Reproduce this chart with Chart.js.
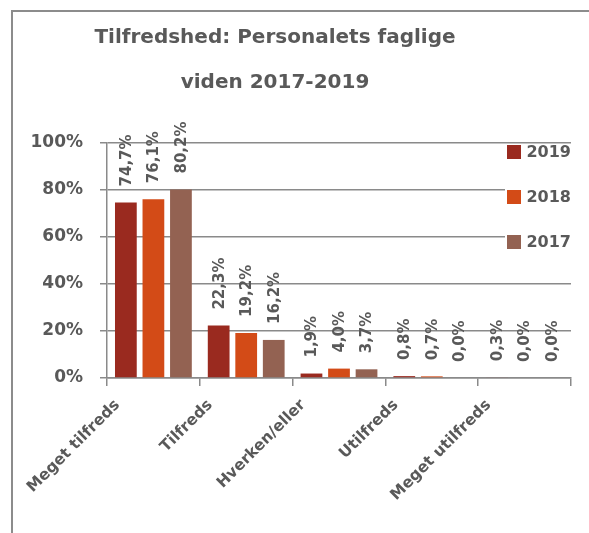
<!DOCTYPE html>
<html>
<head>
<meta charset="utf-8">
<script src="https://cdn.jsdelivr.net/npm/chart.js@4.4.1/dist/chart.umd.min.js"></script>
<style>
  html, body { margin: 0; padding: 0; background: #fff; overflow: hidden; }
  #frame { position: absolute; left: 11px; top: 10px; width: 640px; height: 600px; border: 2px solid #8c8c8c; }
  #wrap { position: absolute; left: 0; top: 0; width: 589px; height: 533px; }
</style>
</head>
<body>
<div id="frame"></div>
<div id="wrap"><canvas id="chart" width="589" height="533"></canvas></div>
<script>
// data
const categories = ['Meget tilfreds', 'Tilfreds', 'Hverken/eller', 'Utilfreds', 'Meget utilfreds'];
const years = ['2019', '2018', '2017'];
const values2019 = [74.7, 22.3, 1.9, 0.8, 0.3];
const values2018 = [76.1, 19.2, 4.0, 0.7, 0.0];
const values2017 = [80.2, 16.2, 3.7, 0.0, 0.0];
const yTicks = [0, 20, 40, 60, 80, 100];
const titleLines = ['Tilfredshed: Personalets faglige', 'viden 2017-2019'];

const colors = ['#9a2a1f', '#d34b17', '#936252'];
const textColor = '#595959';
const gridColor = '#8a8a8a';
const fontFamily = '"DejaVu Sans", sans-serif';

const fmt = v => v.toFixed(1).replace('.', ',') + '%';

// title drawn by hand so it can sit left of the canvas centre like the original
const chartTitle = {
  id: 'chartTitle',
  afterDraw(chart) {
    const ctx = chart.ctx;
    ctx.save();
    ctx.font = 'bold 20px ' + fontFamily;
    ctx.fillStyle = textColor;
    ctx.textAlign = 'center';
    ctx.textBaseline = 'alphabetic';
    titleLines.forEach((line, i) => ctx.fillText(line, 275, 43 + i * 44.6));
    ctx.restore();
  }
};

// legend inside the plot, top right
const sideLegend = {
  id: 'sideLegend',
  afterDatasetsDraw(chart) {
    const { ctx, chartArea } = chart;
    const right = chartArea.right;
    ctx.save();
    ctx.fillStyle = '#fff';
    ctx.fillRect(right - 66, chartArea.top + 2, 66, 106);
    ctx.font = 'bold 16px ' + fontFamily;
    ctx.textAlign = 'right';
    ctx.textBaseline = 'middle';
    chart.data.datasets.forEach((ds, i) => {
      const y = chartArea.top + 9 + i * 45;
      ctx.fillStyle = ds.backgroundColor;
      ctx.fillRect(right - 64, y - 7, 14, 14);
      ctx.fillStyle = textColor;
      ctx.fillText(ds.label, right, y + 1);
    });
    ctx.restore();
  }
};

// vertical value labels above each bar
const barLabels = {
  id: 'barLabels',
  afterDatasetsDraw(chart) {
    const ctx = chart.ctx;
    ctx.save();
    ctx.font = 'bold 15px ' + fontFamily;
    ctx.fillStyle = textColor;
    ctx.textAlign = 'left';
    ctx.textBaseline = 'middle';
    chart.data.datasets.forEach((ds, i) => {
      chart.getDatasetMeta(i).data.forEach((bar, j) => {
        ctx.save();
        ctx.translate(bar.x + 1, bar.y - 16);
        ctx.rotate(-Math.PI / 2);
        ctx.fillText(fmt(ds.data[j]), 0, 0);
        ctx.restore();
      });
    });
    ctx.restore();
  }
};

new Chart(document.getElementById('chart'), {
  type: 'bar',
  data: {
    labels: categories,
    datasets: [values2019, values2018, values2017].map((vals, i) => ({
      label: years[i],
      data: vals,
      backgroundColor: colors[i],
      categoryPercentage: 0.89,
      barPercentage: 0.79
    }))
  },
  options: {
    responsive: false,
    animation: false,
    layout: { padding: { top: 143, right: 18, bottom: 0, left: 0 } },
    plugins: {
      legend: { display: false },
      title: { display: false },
      tooltip: { enabled: false }
    },
    scales: {
      x: {
        afterFit: s => { s.height = 155; },
        grid: { drawOnChartArea: false, color: gridColor, lineWidth: 1.5, tickLength: 8 },
        border: { color: gridColor, width: 1.5 },
        ticks: {
          color: textColor,
          font: { family: fontFamily, size: 15.5, weight: 'bold' },
          minRotation: 45,
          maxRotation: 45,
          labelOffset: -36,
          padding: 10
        }
      },
      y: {
        min: 0,
        max: 100,
        afterFit: s => { s.width = 107; },
        afterBuildTicks: s => { s.ticks = yTicks.map(v => ({ value: v })); },
        grid: { color: gridColor, lineWidth: 1.5, tickLength: 7 },
        border: { color: gridColor, width: 1.5 },
        ticks: {
          color: textColor,
          font: { family: fontFamily, size: 17, weight: 'bold' },
          padding: 17,
          callback: v => v + '%'
        }
      }
    }
  },
  plugins: [chartTitle, sideLegend, barLabels]
});
</script>
</body>
</html>
